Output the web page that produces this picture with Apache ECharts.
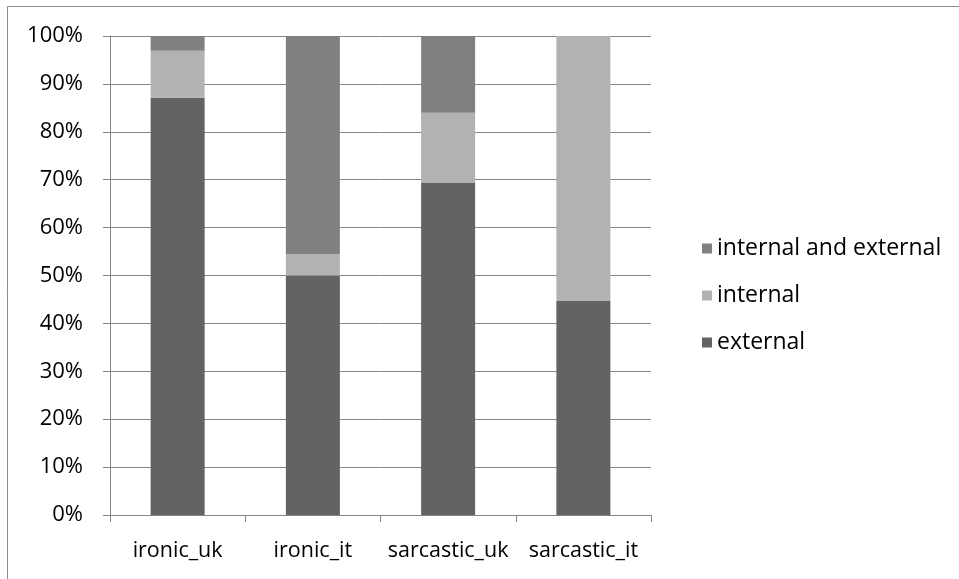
<!DOCTYPE html>
<html>
<head>
<meta charset="utf-8">
<script src="https://cdn.jsdelivr.net/npm/echarts@6/dist/echarts.min.js"></script>
<style>
  html, body { margin: 0; padding: 0; background: #fff; }
  #chart { width: 959px; height: 579px; }
</style>
</head>
<body>
<div id="chart"></div>
<script>
// Share of each explanation type per corpus (percent, stacks to 100)
const categories = ['ironic_uk', 'ironic_it', 'sarcastic_uk', 'sarcastic_it'];
const seriesNames = ['external', 'internal', 'internal and external'];
const external = [87.1, 50.0, 69.3, 44.7];
const internal = [9.8, 4.5, 14.7, 55.3];
const internalAndExternal = [3.1, 45.5, 16.0, 0];
const yTicks = [0, 10, 20, 30, 40, 50, 60, 70, 80, 90, 100];

const colors = {
  'external': '#636363',
  'internal': '#b2b2b2',
  'internal and external': '#808080'
};

const font = '"Open Sans", "Noto Sans", sans-serif';
const values = [external, internal, internalAndExternal];

const chart = echarts.init(document.getElementById('chart'), null, { renderer: 'canvas' });

chart.setOption({
  animation: false,
  backgroundColor: '#ffffff',
  grid: { left: 110, right: 308, top: 36, bottom: 64, containLabel: false },
  legend: {
    orient: 'vertical',
    left: 697,
    top: 232,
    itemWidth: 10,
    itemHeight: 10,
    itemGap: 24,
    icon: 'rect',
    data: ['internal and external', 'internal', 'external'],
    textStyle: { fontFamily: font, fontSize: 23, color: '#000' }
  },
  xAxis: {
    type: 'category',
    data: categories,
    axisLine: { lineStyle: { color: '#868686', width: 1 } },
    axisTick: { show: true, interval: 0, length: 7, lineStyle: { color: '#868686' }, alignWithLabel: false },
    axisLabel: { interval: 0, hideOverlap: false, fontFamily: font, fontSize: 21.5, color: '#000', margin: 25 },
    splitLine: { show: false }
  },
  yAxis: {
    type: 'value',
    min: 0,
    max: 100,
    interval: 10,
    axisLine: { show: true, lineStyle: { color: '#868686', width: 1 } },
    axisTick: { show: true, length: 7, lineStyle: { color: '#868686' } },
    axisLabel: {
      fontFamily: font, fontSize: 22, color: '#000', margin: 27,
      formatter: v => yTicks.includes(v) ? v + '%' : ''
    },
    splitLine: { show: true, lineStyle: { color: '#868686', width: 1 } }
  },
  series: seriesNames.map((name, i) => ({
    name: name,
    type: 'bar',
    stack: 'total',
    barWidth: 54,
    data: values[i],
    itemStyle: { color: colors[name] },
    emphasis: { disabled: true }
  })),
  graphic: [
    { type: 'line', shape: { x1: 7.5, y1: 6.5, x2: 959, y2: 6.5 }, style: { stroke: '#8c8c8c', lineWidth: 1 } },
    { type: 'line', shape: { x1: 7.5, y1: 6.5, x2: 7.5, y2: 579 }, style: { stroke: '#8c8c8c', lineWidth: 1 } }
  ]
});
</script>
</body>
</html>
